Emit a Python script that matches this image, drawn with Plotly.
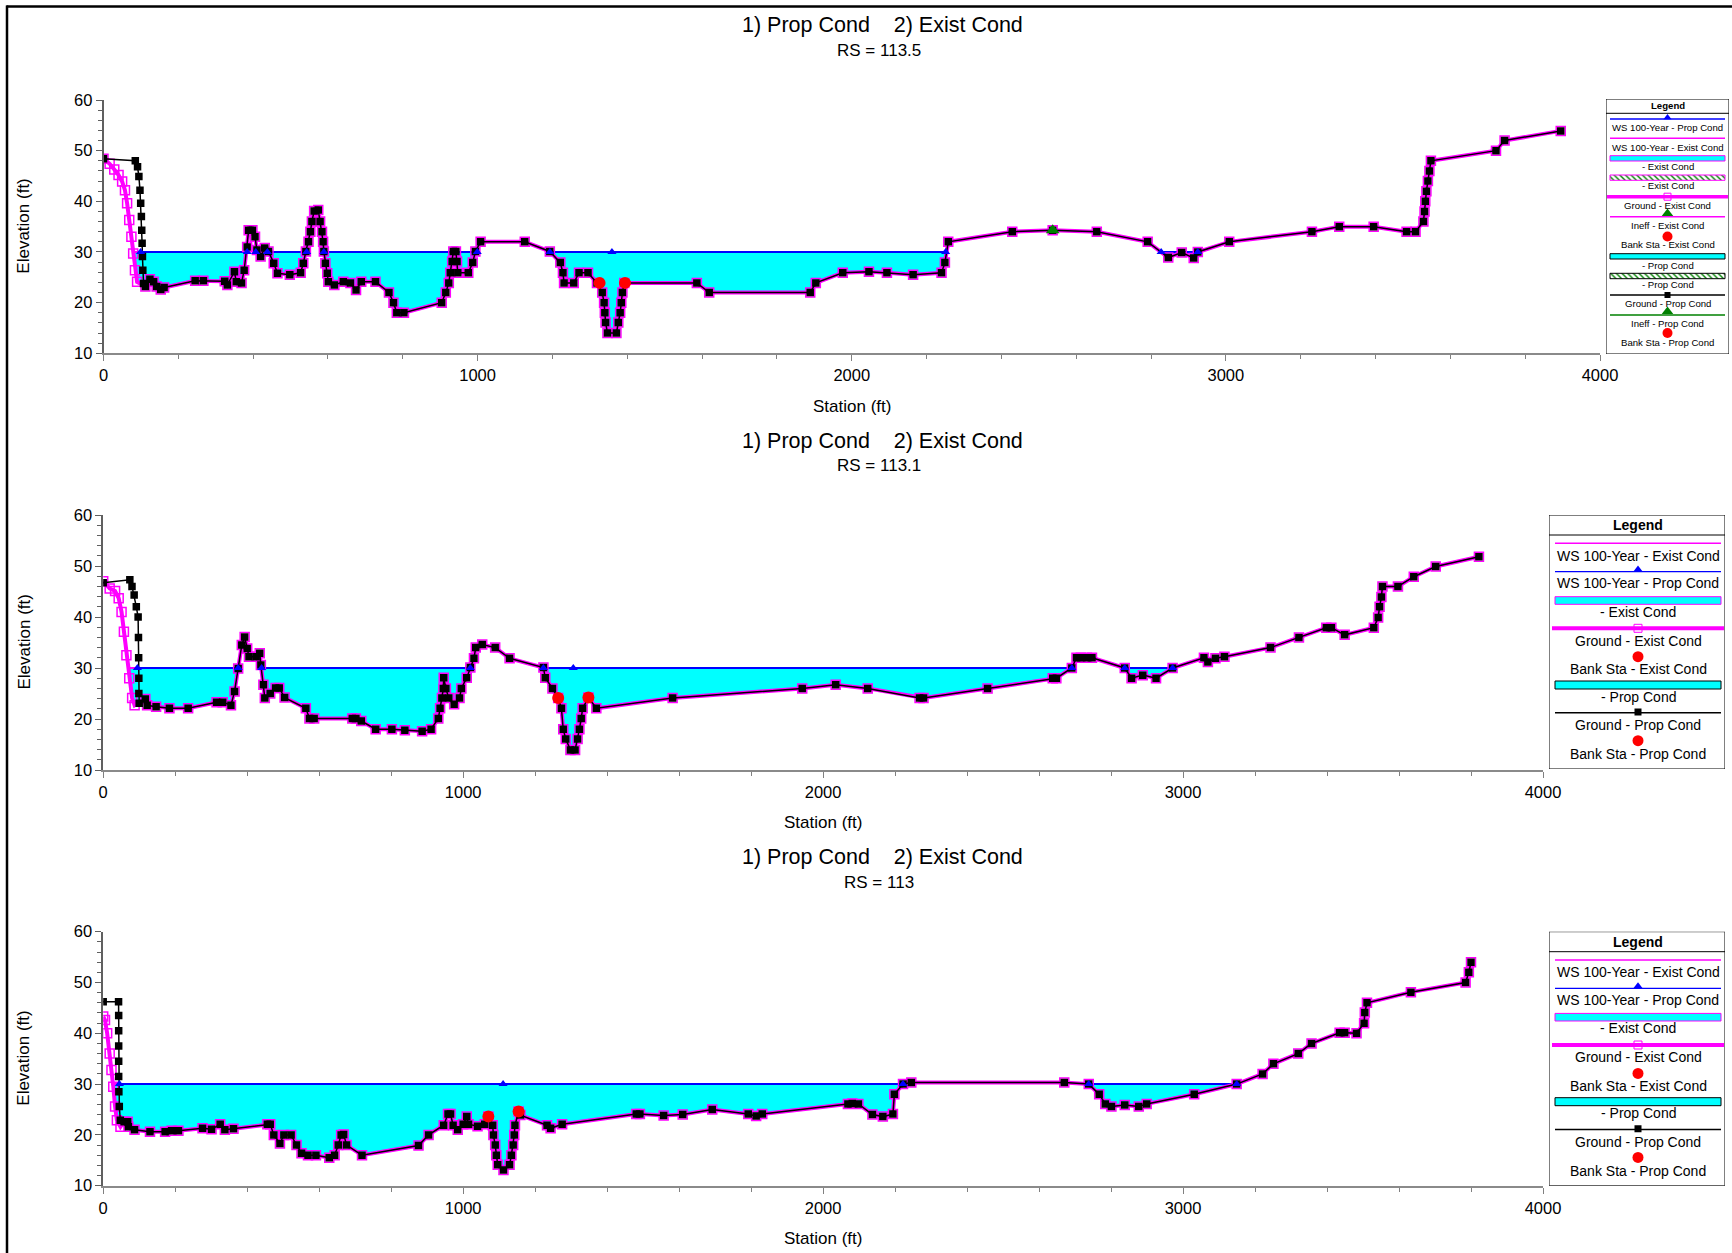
import plotly.graph_objects as go

W, H = 1732, 1253
WS_ELEV = 30.0

# ---------------- RS = 113.5 ----------------
rs1_prop_left_x = [0, 85, 91, 94.6, 97.5, 99.4, 101.3, 102.2, 103.2, 104.1, 105.1, 107]
rs1_prop_left_y = [48.4, 48.0, 46.8, 44.9, 42.2, 39.6, 37.0, 34.3, 31.7, 29.1, 26.4, 23.8]
rs1_exist_left_x = [0, 16.4, 28.8, 40.2, 49.8, 57.4, 63.1, 68.8, 74.6, 79.3, 84.1, 89.8]
rs1_exist_left_y = [48.4, 47.4, 46.3, 45.2, 43.9, 42.2, 39.6, 36.3, 33.0, 29.7, 26.4, 24.1]
rs1_main_x = [
    112, 124, 134, 142, 153, 162, 245, 267, 324, 331,
    350, 355, 369, 376, 384, 388, 398, 405, 410, 420,
    431, 441, 455, 465, 498, 527, 534, 541, 548, 553,
    557, 563, 574, 579, 584, 587, 589, 593, 598, 601,
    617, 641, 660, 675, 689, 727, 763, 775, 784, 803,
    904, 915, 923, 927, 932, 935, 942, 945, 947, 975,
    987, 994, 1008, 1126, 1193, 1221, 1228, 1231, 1257, 1271,
    1295, 1319, 1333, 1338, 1340, 1342, 1347, 1371, 1376, 1381,
    1384, 1387, 1392, 1586, 1619, 1889, 1904, 1976, 2046, 2094,
    2164, 2240, 2249, 2258, 2429, 2537, 2655, 2791, 2846, 2882,
    2914, 2925, 3009, 3230, 3303, 3395, 3483, 3507, 3528, 3531,
    3533, 3536, 3540, 3544, 3548, 3722, 3745, 3895]
rs1_main_y = [
    23.2, 24.6, 24.1, 23.2, 22.6, 23.0, 24.3, 24.3, 24.2, 23.5,
    26.1, 24.1, 23.9, 26.4, 31.0, 34.3, 34.3, 33.0, 30.4, 29.1,
    30.8, 30.1, 27.8, 25.8, 25.5, 25.9, 27.8, 30.1, 32.0, 34.0,
    36.0, 38.1, 38.3, 36.0, 34.0, 32.0, 30.1, 27.8, 25.8, 24.1,
    23.5, 24.1, 23.9, 22.5, 24.1, 24.1, 22.0, 20.0, 18.0, 18.0,
    20.0, 22.0, 23.9, 25.9, 28.1, 30.1, 30.1, 28.1, 25.9, 25.9,
    27.9, 30.1, 32.0, 32.0, 30.1, 27.9, 25.9, 23.9, 23.9, 25.9,
    25.9, 23.9, 22.0, 20.0, 18.0, 16.1, 14.0, 14.0, 16.1, 18.0,
    20.0, 22.0, 23.9, 23.9, 22.0, 22.0, 23.9, 25.9, 26.1, 25.9,
    25.5, 25.9, 27.9, 32.0, 34.0, 34.3, 34.0, 32.0, 28.9, 29.9,
    28.8, 30.0, 32.0, 34.0, 35.0, 35.0, 34.0, 34.0, 36.0, 38.0,
    40.0, 42.0, 44.0, 46.0, 48.0, 50.0, 52.0, 53.9]
rs1_ws_mark_x = [99, 384, 407, 438, 543, 589, 999, 1193, 1359, 2251, 2827, 2925]
rs1_bank_x = [1326, 1394]
rs1_bank_y = [23.9, 23.9]
rs1_ineff_x = [2537]
rs1_ineff_y = [34.3]

# ---------------- RS = 113.1 ----------------
rs2_prop_left_x = [0, 74, 80, 86, 92, 97, 98, 98.5, 99, 99, 100]
rs2_prop_left_y = [46.7, 47.3, 46.0, 44.3, 42.0, 40.0, 36.0, 32.0, 28.0, 25.0, 23.1]
rs2_exist_left_x = [0, 18, 33, 43, 51, 57.5, 64.5, 72.4, 80.4, 87.3]
rs2_exist_left_y = [47.0, 45.6, 45.1, 43.7, 41.0, 37.1, 32.5, 28.0, 24.1, 22.7]
rs2_main_x = [
    117, 122, 147, 184, 236, 315, 332, 355, 365, 375,
    385, 393, 400, 405, 425, 435, 438, 445, 449, 464,
    479, 489, 504, 563, 573, 586, 692, 702, 717, 757,
    802, 838, 886, 911, 931, 936, 941, 945, 946, 952,
    960, 975, 990, 995, 1010, 1020, 1030, 1035, 1053, 1089,
    1129, 1223, 1228, 1248, 1264, 1273, 1278, 1285, 1298, 1311,
    1318, 1323, 1328, 1332, 1348, 1370, 1582, 1942, 2035, 2124,
    2268, 2279, 2457, 2638, 2648, 2691, 2704, 2716, 2733, 2747,
    2838, 2857, 2888, 2925, 2971, 3058, 3069, 3090, 3115, 3243,
    3322, 3398, 3412, 3449, 3530, 3542, 3546, 3551, 3554, 3597,
    3641, 3702, 3822]
rs2_main_y = [
    23.9, 22.7, 22.4, 22.1, 22.1, 23.3, 23.3, 22.7, 25.4, 29.9,
    34.5, 36.1, 33.8, 32.2, 32.2, 32.9, 30.6, 26.7, 24.1, 25.0,
    26.1, 26.1, 24.2, 22.1, 20.1, 20.1, 20.1, 20.1, 19.6, 18.0,
    18.0, 17.8, 17.6, 18.0, 20.1, 22.1, 24.1, 26.0, 28.1, 26.0,
    24.1, 22.9, 24.1, 26.0, 28.1, 30.1, 31.9, 34.0, 34.6, 34.0,
    31.9, 30.1, 28.1, 26.0, 24.1, 22.1, 18.0, 16.1, 13.9, 13.9,
    16.1, 18.0, 20.1, 22.1, 24.2, 22.1, 24.1, 26.0, 26.7, 26.0,
    24.1, 24.1, 26.0, 28.0, 28.0, 30.0, 32.0, 32.0, 32.0, 32.0,
    30.0, 28.0, 28.6, 28.0, 30.0, 32.0, 31.2, 31.9, 32.2, 34.0,
    36.0, 37.9, 37.9, 36.5, 37.9, 39.9, 42.0, 43.9, 46.0, 46.0,
    47.9, 49.9, 51.8]
rs2_ws_mark_x = [95, 375, 440, 1020, 1223, 1306, 2691, 2838, 2971]
rs2_bank_x = [1264, 1348]
rs2_bank_y = [24.1, 24.2]

# ---------------- RS = 113 ----------------
rs3_prop_left_x = [0, 42.7, 43, 43, 43, 43, 43, 43.5, 44.7, 47.6]
rs3_prop_left_y = [46.2, 46.2, 43.5, 40.5, 37.5, 34.5, 31.5, 28.5, 25.6, 22.9]
rs3_exist_left_x = [0, 5, 11, 18, 23, 28, 33, 38, 48]
rs3_exist_left_y = [43.3, 42.6, 40.0, 36.0, 32.8, 29.5, 25.6, 22.9, 21.6]
rs3_main_x = [
    58, 68, 70, 87, 130, 172, 190, 209, 276, 301,
    325, 338, 362, 456, 464, 474, 491, 502, 522, 537,
    551, 569, 591, 628, 643, 653, 661, 668, 676, 719,
    876, 904, 946, 958, 965, 972, 985, 1000, 1010, 1015,
    1040, 1060, 1070, 1082, 1084, 1089, 1092, 1096, 1112, 1129,
    1134, 1139, 1142, 1144, 1154, 1159, 1233, 1243, 1275, 1481,
    1491, 1557, 1610, 1692, 1792, 1814, 1831, 2069, 2081, 2098,
    2137, 2166, 2194, 2198, 2222, 2245, 2670, 2738, 2767, 2784,
    2801, 2838, 2877, 2899, 3031, 3149, 3221, 3251, 3320, 3357,
    3435, 3449, 3482, 3503, 3505, 3511, 3633, 3785, 3794, 3800]
rs3_main_y = [
    22.6, 22.6, 21.6, 21.0, 20.6, 20.6, 20.8, 20.8, 21.3, 21.1,
    22.1, 21.0, 21.2, 22.1, 22.1, 20.0, 18.3, 20.0, 20.0, 18.0,
    16.4, 16.0, 16.0, 15.5, 16.0, 18.0, 20.0, 20.1, 18.0, 16.0,
    17.9, 20.0, 21.9, 24.1, 24.1, 21.9, 21.0, 22.1, 23.6, 22.1,
    21.7, 22.1, 23.6, 21.9, 20.0, 18.0, 16.0, 14.1, 13.1, 14.1,
    16.0, 18.0, 20.0, 21.9, 24.6, 23.9, 21.9, 21.3, 22.1, 24.1,
    24.1, 23.8, 24.0, 25.0, 24.1, 23.7, 24.1, 26.1, 26.2, 26.1,
    24.0, 23.6, 24.1, 28.0, 30.0, 30.3, 30.3, 30.0, 28.0, 26.1,
    25.6, 25.9, 25.6, 26.1, 28.0, 30.0, 32.0, 34.0, 36.0, 38.0,
    40.1, 40.1, 40.0, 42.0, 44.1, 46.0, 48.1, 50.0, 52.0, 54.0]
rs3_ws_mark_x = [45, 1111, 2222, 2738, 3149]
rs3_bank_x = [1070, 1154]
rs3_bank_y = [23.6, 24.6]

FONT = "Liberation Sans, Arial, sans-serif"
CYAN = "#00ffff"
MAG = "#ff00ff"
BLUE = "#0000ff"
GREEN = "#008000"


def wet_parts(sta, elev, ws):
    # water polygons (ground below ws) and the water surface segments
    px, py, lx, ly = [], [], [], []
    run = []
    for i in range(len(sta)):
        if i > 0 and (elev[i - 1] < ws) != (elev[i] < ws):
            t = (ws - elev[i - 1]) / (elev[i] - elev[i - 1])
            xc = sta[i - 1] + t * (sta[i] - sta[i - 1])
            run.append((xc, ws))
            if elev[i] >= ws:
                px += [p[0] for p in run] + [None]
                py += [p[1] for p in run] + [None]
                lx += [run[0][0], run[-1][0], None]
                ly += [ws, ws, None]
                run = []
        if elev[i] < ws:
            run.append((sta[i], elev[i]))
    return px, py, lx, ly


fig = go.Figure()


def add_section(n, prop_x, prop_y, exist_x, exist_y, ws_x, bank_x, bank_y,
                ineff_x=None, ineff_y=None):
    xa = "x" if n == 1 else f"x{n}"
    ya = "y" if n == 1 else f"y{n}"
    kw = dict(xaxis=xa, yaxis=ya, hoverinfo="skip", showlegend=False)
    ex = wet_parts(exist_x, exist_y, WS_ELEV)
    pr = wet_parts(prop_x, prop_y, WS_ELEV)
    for w in (ex, pr):
        fig.add_trace(go.Scatter(x=w[0], y=w[1], mode="lines", fill="toself",
                                 fillcolor=CYAN, line=dict(width=0), **kw))
    fig.add_trace(go.Scatter(x=ex[2], y=ex[3], mode="lines",
                             line=dict(color=MAG, width=2), **kw))
    fig.add_trace(go.Scatter(x=pr[2], y=pr[3], mode="lines",
                             line=dict(color=BLUE, width=2), **kw))
    fig.add_trace(go.Scatter(x=exist_x, y=exist_y, mode="lines+markers",
                             line=dict(color=MAG, width=4),
                             marker=dict(symbol="square-open", size=9, color=MAG,
                                         line=dict(width=1.5, color=MAG)), **kw))
    fig.add_trace(go.Scatter(x=prop_x, y=prop_y, mode="lines+markers",
                             line=dict(color="black", width=1.5),
                             marker=dict(symbol="square", size=7.5, color="black"), **kw))
    fig.add_trace(go.Scatter(x=ws_x, y=[WS_ELEV] * len(ws_x), mode="markers",
                             marker=dict(symbol="triangle-up", size=8, color=BLUE), **kw))
    fig.add_trace(go.Scatter(x=bank_x, y=bank_y, mode="markers",
                             marker=dict(symbol="circle", size=12, color="#ff0000"), **kw))
    if ineff_x:
        fig.add_trace(go.Scatter(x=ineff_x, y=ineff_y, mode="markers",
                                 marker=dict(symbol="triangle-up", size=12, color=GREEN), **kw))


add_section(1, rs1_prop_left_x + rs1_main_x, rs1_prop_left_y + rs1_main_y,
            rs1_exist_left_x + rs1_main_x, rs1_exist_left_y + rs1_main_y,
            rs1_ws_mark_x, rs1_bank_x, rs1_bank_y, rs1_ineff_x, rs1_ineff_y)
add_section(2, rs2_prop_left_x + rs2_main_x, rs2_prop_left_y + rs2_main_y,
            rs2_exist_left_x + rs2_main_x, rs2_exist_left_y + rs2_main_y,
            rs2_ws_mark_x, rs2_bank_x, rs2_bank_y)
add_section(3, rs3_prop_left_x + rs3_main_x, rs3_prop_left_y + rs3_main_y,
            rs3_exist_left_x + rs3_main_x, rs3_exist_left_y + rs3_main_y,
            rs3_ws_mark_x, rs3_bank_x, rs3_bank_y)

# plot boxes in pixels: left, right, top, bottom
boxes = {1: (103.5, 1600, 100, 353.3), 2: (103.2, 1543, 515, 770), 3: (103.2, 1543, 931.7, 1185.7)}
titles = {1: ("RS = 113.5", 25.4, 50.8, 406.5), 2: ("RS = 113.1", 440.7, 466, 823),
          3: ("RS = 113", 857, 882.6, 1238)}

layout = dict(width=W, height=H, margin=dict(l=0, r=0, t=0, b=0), template="none",
              paper_bgcolor="white", plot_bgcolor="white",
              font=dict(family=FONT, color="black"), showlegend=False)
annotations, shapes = [], []


def pnote(text, x, y, size, angle=0):
    annotations.append(dict(text=text, x=x / W, y=1 - y / H, xref="paper", yref="paper",
                            xanchor="center", yanchor="middle", showarrow=False,
                            textangle=angle, font=dict(size=size)))


for n, (L, R, T, B) in boxes.items():
    sfx = "" if n == 1 else str(n)
    layout["xaxis" + sfx] = dict(
        domain=[L / W, R / W], anchor="y" + sfx, range=[0, 4000],
        tick0=0, dtick=1000, ticks="outside", ticklen=6, tickcolor="#808080",
        showline=True, linecolor="#8a8a8a", linewidth=2, showgrid=False, zeroline=False,
        tickfont=dict(size=16.5, family=FONT, color="black"),
        minor=dict(dtick=200, ticks="outside", ticklen=4, tickcolor="#808080", showgrid=False))
    layout["yaxis" + sfx] = dict(
        domain=[1 - B / H, 1 - T / H], anchor="x" + sfx, range=[10, 60],
        tick0=10, dtick=10, ticks="outside", ticklen=6, tickcolor="#606060",
        showline=True, linecolor="#606060", linewidth=1.5, showgrid=False, zeroline=False,
        tickfont=dict(size=16.5, family=FONT, color="black"),
        minor=dict(dtick=2, ticks="outside", ticklen=4, tickcolor="#606060", showgrid=False))
    rs, ty, ry, sy = titles[n]
    pnote("1) Prop Cond\u00a0\u00a0\u00a0\u00a02) Exist Cond", 882, ty, 21.5)
    pnote(rs, 879, ry, 17)
    pnote("Station (ft)", (L + R) / 2, sy, 17)
    pnote("Elevation (ft)", 24, (T + B) / 2, 17, angle=-90)


# ---------------- legends (drawn on hidden pixel axes) ----------------
def legend_axes(n, L, R, T, B):
    layout[f"xaxis{n}"] = dict(domain=[L / W, R / W], range=[L, R], visible=False,
                               anchor=f"y{n}", fixedrange=True)
    layout[f"yaxis{n}"] = dict(domain=[1 - B / H, 1 - T / H], range=[B, T], visible=False,
                               anchor=f"x{n}", fixedrange=True)
    shapes.append(dict(type="rect", xref=f"x{n}", yref=f"y{n}", x0=L, x1=R, y0=T, y1=B,
                       line=dict(color="black", width=1)))


def lg_line(n, x0, x1, y, color, width):
    fig.add_trace(go.Scatter(x=[x0, x1], y=[y, y], mode="lines", line=dict(color=color, width=width),
                             xaxis=f"x{n}", yaxis=f"y{n}", hoverinfo="skip", showlegend=False))


def lg_mark(n, x, y, symbol, color, size, lw=0):
    fig.add_trace(go.Scatter(x=[x], y=[y], mode="markers",
                             marker=dict(symbol=symbol, color=color, size=size,
                                         line=dict(color=color, width=lw)),
                             xaxis=f"x{n}", yaxis=f"y{n}", hoverinfo="skip", showlegend=False))


def lg_rect(n, x0, x1, y0, y1, border, hatch=False):
    if hatch:
        fig.add_trace(go.Scatter(x=[x0, x1, x1, x0, x0], y=[y0, y0, y1, y1, y0], mode="lines",
                                 fill="toself", fillcolor="white",
                                 fillpattern=dict(shape="\\", fgcolor=GREEN, bgcolor="white",
                                                  size=4, solidity=0.35),
                                 line=dict(color=border, width=1), xaxis=f"x{n}", yaxis=f"y{n}",
                                 hoverinfo="skip", showlegend=False))
    else:
        shapes.append(dict(type="rect", xref=f"x{n}", yref=f"y{n}", x0=x0, x1=x1, y0=y0, y1=y1,
                           fillcolor=CYAN, line=dict(color=border, width=1)))


def lg_text(n, x, y, text, size, bold=False):
    annotations.append(dict(text=f"<b>{text}</b>" if bold else text, x=x, y=y, xref=f"x{n}",
                            yref=f"y{n}", xanchor="center", yanchor="middle",
                            showarrow=False, font=dict(size=size)))


# legend of RS 113.5 (small)
L, R, T, B = 1606, 1729, 99, 354
legend_axes(4, L, R, T, B)
x0, x1, xc, fs = 1610, 1725, 1667.5, 9.6
shapes.append(dict(type="line", xref="x4", yref="y4", x0=L, x1=R, y0=113.3, y1=113.3,
                   line=dict(color="black", width=1)))
lg_text(4, xc, 105.7, "Legend", 9.6, bold=True)
lg_line(4, x0, x1, 119, BLUE, 1.5)
lg_mark(4, xc, 117.5, "triangle-up", BLUE, 7)
lg_text(4, xc, 127.7, "WS 100-Year - Prop Cond", fs)
lg_line(4, x0, x1, 138.3, MAG, 1.5)
lg_text(4, xc, 147.7, "WS 100-Year - Exist Cond", fs)
lg_rect(4, x0, x1, 155.7, 161, MAG)
lg_text(4, xc, 166.3, "- Exist Cond", fs)
lg_rect(4, x0, x1, 175, 180.3, MAG, hatch=True)
lg_text(4, xc, 185.7, "- Exist Cond", fs)
lg_line(4, x0 - 3, x1 + 3, 196.7, MAG, 3.5)
lg_mark(4, xc, 196.7, "square-open", MAG, 7, 1)
lg_text(4, xc, 205.3, "Ground - Exist Cond", fs)
lg_line(4, x0, x1, 216.7, MAG, 1.5)
lg_mark(4, xc, 213.5, "triangle-up", GREEN, 10)
lg_text(4, xc, 225.3, "Ineff - Exist Cond", fs)
lg_mark(4, xc, 236.5, "circle", "#ff0000", 10)
lg_text(4, xc, 244.3, "Bank Sta - Exist Cond", fs)
lg_rect(4, x0, x1, 253.7, 259, "black")
lg_text(4, xc, 265, "- Prop Cond", fs)
lg_rect(4, x0, x1, 273.3, 278.7, "black", hatch=True)
lg_text(4, xc, 284, "- Prop Cond", fs)
lg_line(4, x0, x1, 295, "black", 1.5)
lg_mark(4, xc, 295, "square", "black", 6)
lg_text(4, xc, 303.7, "Ground - Prop Cond", fs)
lg_line(4, x0, x1, 315, GREEN, 1.5)
lg_mark(4, xc, 311.5, "triangle-up", GREEN, 10)
lg_text(4, xc, 323.7, "Ineff - Prop Cond", fs)
lg_mark(4, xc, 333, "circle", "#ff0000", 10)
lg_text(4, xc, 342.3, "Bank Sta - Prop Cond", fs)

# legends of RS 113.1 and RS 113 (large)
for n, dy in ((5, 0.0), (6, 416.7)):
    L, R, T, B = 1549, 1725, 515 + dy, 769 + dy
    legend_axes(n, L, R, T, B)
    x0, x1, xc, fs = 1555, 1721, 1638, 14
    shapes.append(dict(type="line", xref=f"x{n}", yref=f"y{n}", x0=L, x1=R, y0=535 + dy,
                       y1=535 + dy, line=dict(color="black", width=1)))
    lg_text(n, xc, 525 + dy, "Legend", 14, bold=True)
    lg_line(n, x0, x1, 543.3 + dy, MAG, 1.5)
    lg_text(n, xc, 555.7 + dy, "WS 100-Year - Exist Cond", fs)
    lg_line(n, x0, x1, 571.7 + dy, BLUE, 1.2)
    lg_mark(n, xc, 569.5 + dy, "triangle-up", BLUE, 8)
    lg_text(n, xc, 583.3 + dy, "WS 100-Year - Prop Cond", fs)
    lg_rect(n, x0, x1, 596.7 + dy, 604.3 + dy, MAG)
    lg_text(n, xc, 611.7 + dy, "- Exist Cond", fs)
    lg_line(n, x0 - 3, x1 + 3, 628.3 + dy, MAG, 4)
    lg_mark(n, xc, 628.3 + dy, "square-open", MAG, 8, 1)
    lg_text(n, xc, 640.7 + dy, "Ground - Exist Cond", fs)
    lg_mark(n, xc, 656.7 + dy, "circle", "#ff0000", 11)
    lg_text(n, xc, 669 + dy, "Bank Sta - Exist Cond", fs)
    lg_rect(n, x0, x1, 681 + dy, 689 + dy, "black")
    lg_text(n, xc, 696.7 + dy, "- Prop Cond", fs)
    lg_line(n, x0, x1, 712.7 + dy, "black", 1.5)
    lg_mark(n, xc, 712 + dy, "square", "black", 7)
    lg_text(n, xc, 725 + dy, "Ground - Prop Cond", fs)
    lg_mark(n, xc, 740.7 + dy, "circle", "#ff0000", 11)
    lg_text(n, xc, 754 + dy, "Bank Sta - Prop Cond", fs)

# outer frame (top and left edges of the page)
shapes.append(dict(type="line", xref="paper", yref="paper", x0=6.5 / W, x1=1, y0=1 - 6.5 / H,
                   y1=1 - 6.5 / H, line=dict(color="black", width=2.5)))
shapes.append(dict(type="line", xref="paper", yref="paper", x0=7 / W, x1=7 / W, y0=0,
                   y1=1 - 5.5 / H, line=dict(color="black", width=2.5)))

layout["annotations"] = annotations
layout["shapes"] = shapes
fig.update_layout(**layout)

# page without the default body margin so the figure sits at the window origin
fig.write_html("out.html", config={"displayModeBar": False},
               post_script="document.body.style.margin='0';")
